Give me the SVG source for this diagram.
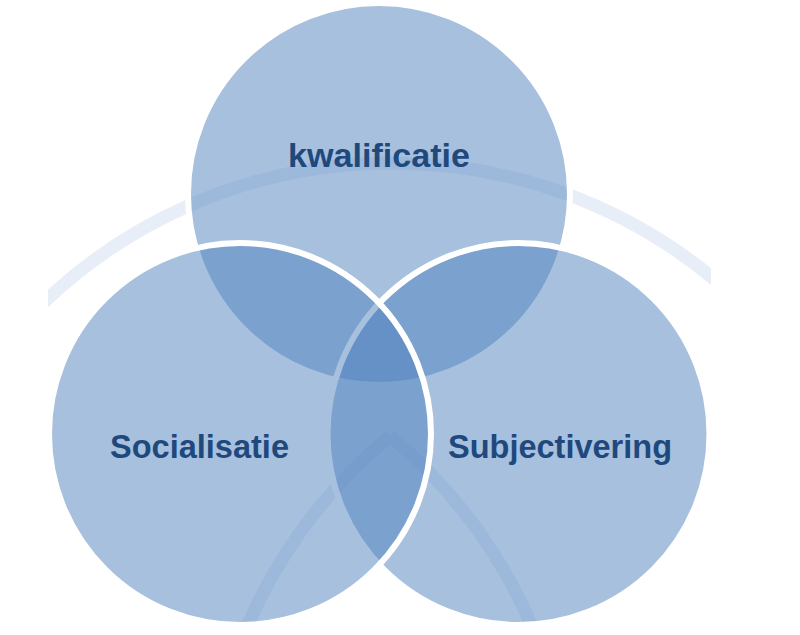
<svg xmlns="http://www.w3.org/2000/svg" width="800" height="635" viewBox="0 0 800 635">
  <style>
    .venn { fill: #4F81BD; fill-opacity: 0.5; stroke: #FFFFFF; stroke-width: 6; }
    .band { fill: none; stroke: #E8EEF7; stroke-width: 13; }
    .label { font-family: "Liberation Sans", Arial, sans-serif; font-weight: bold; font-size: 33px; fill: #1F497D; }
  </style>
  <defs>
    <clipPath id="bgclip">
      <rect x="48" y="0" width="663" height="622"/>
    </clipPath>
  </defs>
  <rect width="800" height="635" fill="#FFFFFF"/>
  <g id="background" clip-path="url(#bgclip)">
    <path class="band" d="M 40 305.9 A 505 505 0 0 1 720 284"/>
    <path class="band" d="M 390 436 A 505 505 0 0 0 237.7 650"/>
    <path class="band" d="M 390 436 A 505 505 0 0 1 541.3 650"/>
  </g>
  <g id="connectors"></g>
  <g id="node-kwalificatie">
    <circle class="venn" cx="379" cy="194" r="191"/>
    <text class="label" x="288" y="167" textLength="182" lengthAdjust="spacingAndGlyphs">kwalificatie</text>
  </g>
  <g id="node-subjectivering">
    <circle class="venn" cx="518.5" cy="434" r="191"/>
    <text class="label" x="448" y="458" textLength="224" lengthAdjust="spacingAndGlyphs">Subjectivering</text>
  </g>
  <g id="node-socialisatie">
    <circle class="venn" cx="240" cy="434" r="191"/>
    <text class="label" x="110" y="458" textLength="179" lengthAdjust="spacingAndGlyphs">Socialisatie</text>
  </g>
</svg>
